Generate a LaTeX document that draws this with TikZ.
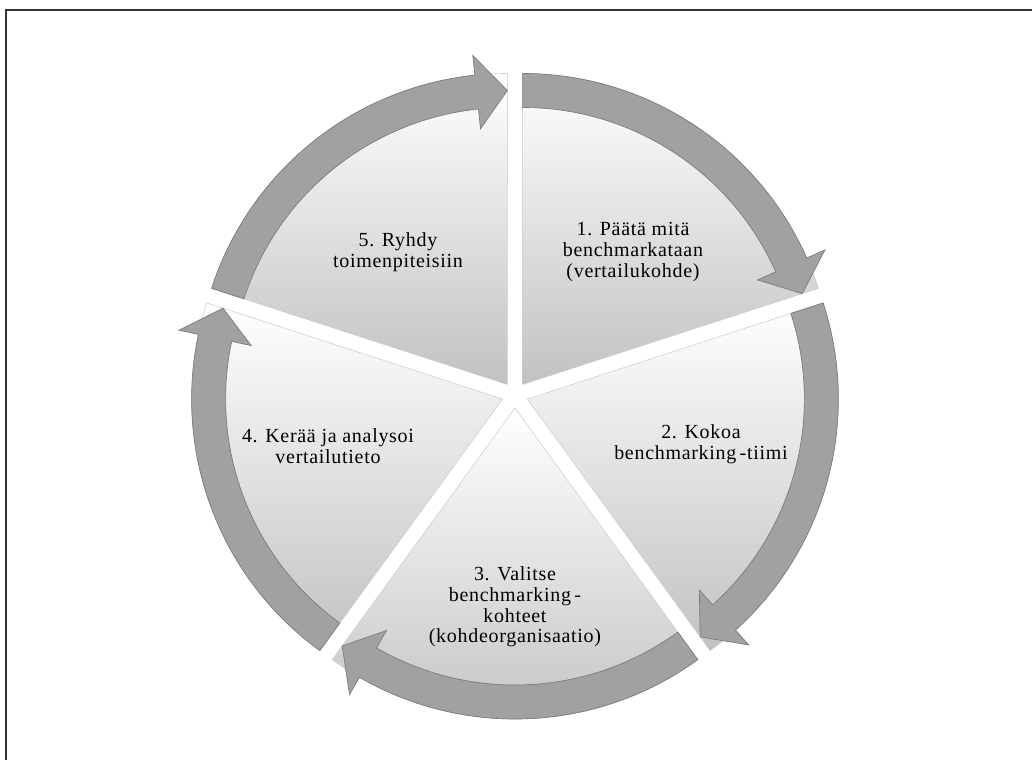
\documentclass[tikz,border=0pt]{standalone}
\usepackage{fontspec}
\setmainfont{Liberation Serif}[LetterSpace=3.5]
\usetikzlibrary{calc}

\tikzset{
  sector/.style={draw=black!20, line width=0.4pt, top color=white, bottom color=black!24},
  ringarrow/.style={fill=black!37, draw=black!52, line width=0.5pt},
  steptext/.style={align=center, text=black, font=\fontsize{15}{15.5}\selectfont},
}

\begin{document}
\begin{tikzpicture}[x=0.75pt,y=0.75pt]

		\useasboundingbox (-515,-365) rectangle (517,395);

		\coordinate (FL) at (-509.2,-365);
		\coordinate (FT) at (-509.2,385.2);
		\coordinate (FR) at (517,385.2);

		% frame (only top and left edges show)
		\draw [black!80, line width=1.3pt] (FL) -- (FT) -- (FR);

		\foreach \a in {90,18,-54,-126,-198}{
			\pgfmathsetmacro{\b}{\a-72}
			\pgfmathsetmacro{\m}{\a-36}
			\pgfmathsetmacro{\h}{\b+6}
			\begin{scope}[shift={(\m:13)}]
				\path [sector] (0,0) -- (\a:311) arc [start angle=\a, end angle=\b, radius=311] -- cycle;
				\path [ringarrow] (\a:311) arc [start angle=\a, end angle=\h, radius=311]
					-- (\h:331) -- (\b:294) -- (\h:257) -- (\h:277)
					arc [start angle=\h, end angle=\a, radius=277] -- cycle;
			\end{scope}
		}

		\node [steptext] (t1) at (118,143) {1. Päätä mitä\\benchmarkataan\\(vertailukohde)};
		\node [steptext] (t2) at (186,-49) {2. Kokoa\\benchmarking\,-tiimi};
		\node [steptext] (t3) at (0,-212) {3. Valitse\\benchmarking\,-\\kohteet\\(kohdeorganisaatio)};
		\node [steptext] (t4) at (-187,-51) {4. Kerää ja analysoi\\vertailutieto};
		\node [steptext] (t5) at (-117,143) {5. Ryhdy\\toimenpiteisiin};

\end{tikzpicture}
\end{document}
